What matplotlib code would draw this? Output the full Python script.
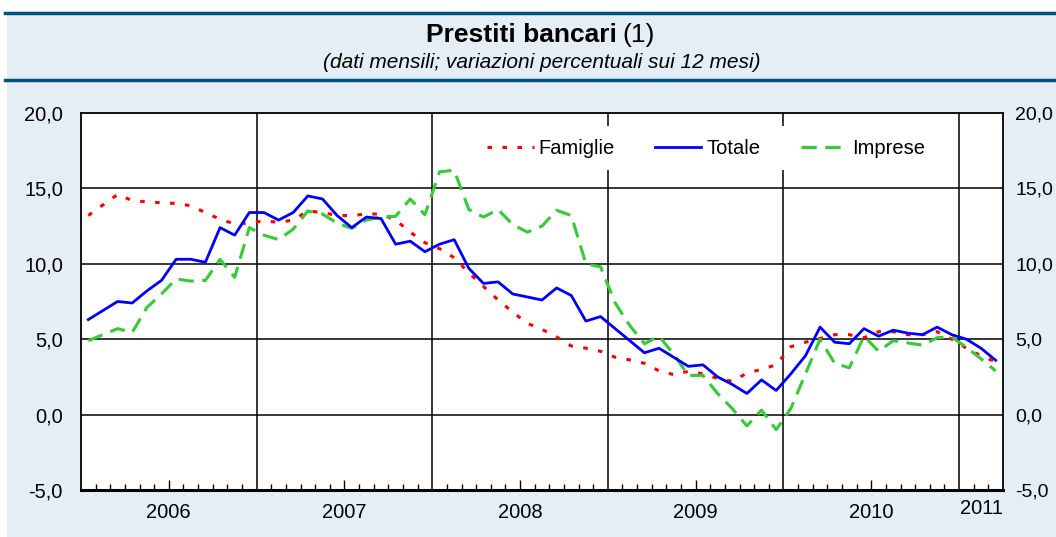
import matplotlib.pyplot as plt
import matplotlib.transforms as mtransforms
import numpy as np
from matplotlib.lines import Line2D

plt.rcParams['font.family'] = ['Liberation Sans', 'DejaVu Sans']

# dati mensili, gen 2006 - mar 2011
totale = [6.3, 6.9, 7.5, 7.4, 8.2, 8.9, 10.3, 10.3, 10.1, 12.4, 11.9, 13.4,
          13.4, 12.9, 13.4, 14.5, 14.3, 13.2, 12.4, 13.1, 13.0, 11.3, 11.5, 10.8,
          11.3, 11.6, 9.7, 8.7, 8.8, 8.0, 7.8, 7.6, 8.4, 7.9, 6.2, 6.5,
          5.7, 4.9, 4.1, 4.4, 3.8, 3.2, 3.3, 2.5, 2.0, 1.4, 2.3, 1.6,
          2.7, 3.9, 5.8, 4.8, 4.7, 5.7, 5.2, 5.6, 5.4, 5.3, 5.8, 5.3,
          5.0, 4.4, 3.6]
famiglie = [13.2, 13.9, 14.6, 14.2, 14.1, 14.05, 14.0, 13.85, 13.4, 12.95, 12.65, 12.7,
            12.85, 12.75, 12.9, 13.5, 13.4, 13.2, 13.2, 13.3, 13.3, 12.9, 12.1, 11.4,
            11.0, 10.4, 9.4, 8.5, 7.6, 6.8, 6.05, 5.65, 5.15, 4.55, 4.4, 4.2,
            3.8, 3.63, 3.4, 2.9, 2.65, 2.87, 2.7, 2.4, 2.2, 2.75, 3.0, 3.3,
            4.5, 4.8, 5.05, 5.3, 5.3, 5.1, 5.5, 5.5, 5.3, 5.3, 5.5, 5.0,
            4.4, 3.9, 3.5]
imprese = [4.9, 5.3, 5.7, 5.45, 7.1, 8.0, 9.0, 8.85, 8.9, 10.3, 9.1, 12.4,
           11.9, 11.6, 12.3, 13.5, 13.3, 12.7, 12.35, 12.9, 13.1, 13.15, 14.3, 13.25,
           16.1, 16.2, 13.6, 13.1, 13.6, 12.6, 12.1, 12.5, 13.55, 13.2, 10.0, 9.8,
           7.4, 5.9, 4.7, 5.2, 4.0, 2.6, 2.6, 1.4, 0.4, -0.75, 0.3, -1.0,
           0.4, 2.7, 5.0, 3.4, 3.1, 5.2, 4.2, 4.9, 4.75, 4.6, 5.1, 5.15,
           4.45, 3.7, 2.9]
anni = ['2006', '2007', '2008', '2009', '2010']
ultimo_anno = '2011'

blu_scuro = '#00527F'
sfondo = '#E5EEF4'

fig = plt.figure(figsize=(10.56, 5.37), dpi=100)
W, H = 1056, 537

# pannello di sfondo e linee del titolo
fig.patches.append(plt.Rectangle((7 / W, 0), 1, 1 - 13 / H, transform=fig.transFigure,
                                 facecolor=sfondo, edgecolor='none', zorder=-5))
fig.add_artist(Line2D([5 / W, 1], [1 - 13 / H] * 2, color=blu_scuro, lw=2.5))
fig.add_artist(Line2D([5 / W, 1], [1 - 80 / H] * 2, color=blu_scuro, lw=2.5))

fig.text(617 / W, 1 - 35 / H, 'Prestiti bancari', fontsize=19, fontweight='bold',
         ha='right', va='center')
fig.text(622 / W, 1 - 35 / H, '(1)', fontsize=19, ha='left', va='center')
fig.text(0.513, 1 - 62 / H, '(dati mensili; variazioni percentuali sui 12 mesi)',
         fontsize=15, style='italic', ha='center', va='center')

ax = fig.add_axes([81 / W, 1 - 490 / H, 922 / W, 377 / H])
ax.set_facecolor('white')

x = np.arange(len(totale)) + 0.5
ax.plot(x, famiglie, color='#FF0000', lw=2.2, linestyle=(0, (1.5, 3.4)), label='Famiglie', zorder=3)
ax.plot(x, totale, color='#0000FF', lw=2.0, label='Totale', zorder=4)
ax.plot(x, imprese, color='#33CC33', lw=2.2, linestyle=(0, (5, 2.8)), label='Imprese', zorder=3)

ax.set_xlim(0, 63)
ax.set_ylim(-5, 20)
yt = [-5, 0, 5, 10, 15, 20]
ax.set_yticks(yt)
ax.set_yticklabels([f'{v:.1f}'.replace('.', ',') for v in yt])
for v in yt[1:-1]:
    ax.axhline(v, color='black', lw=1.1, zorder=1)
for m in range(12, 61, 12):
    ax.axvline(m, color='black', lw=1.1, zorder=1)

ax.set_xticks([6, 18, 30, 42, 54])
ax.set_xticklabels(anni)
ax.set_xticks([m for m in range(1, 63) if m % 12 != 0 and m % 12 != 6], minor=True)
ax.tick_params(axis='x', which='major', direction='in', length=7, width=1, pad=9,
               labelsize=14.5)
ax.tick_params(axis='x', which='minor', direction='in', length=4, width=1)
ax.tick_params(axis='y', length=0, pad=13, labelsize=14.5)
trans = mtransforms.blended_transform_factory(ax.transData, ax.transAxes)
ax.text(61.5, -0.048, ultimo_anno, transform=trans, fontsize=14.5, ha='center', va='center')

for s in ax.spines.values():
    s.set_linewidth(1.3)
ax.spines['bottom'].set_linewidth(2.2)

ax2 = ax.twinx()
ax2.set_ylim(-5, 20)
ax2.set_yticks(yt)
ax2.set_yticklabels([f'{v:.1f}'.replace('.', ',') for v in yt])
ax2.tick_params(axis='y', length=0, pad=9, labelsize=14)
for s in ax2.spines.values():
    s.set_visible(False)

leg = ax.legend(loc='center', bbox_to_anchor=(0.678, 0.907), ncol=3, frameon=True,
                fontsize=14.5, handlelength=2.3, columnspacing=2.0, handletextpad=0.25,
                borderpad=0.6, fancybox=False)
leg.get_frame().set_facecolor('white')
leg.get_frame().set_edgecolor('none')
leg.get_frame().set_alpha(1)
leg.set_zorder(5)

fig.savefig('out.png', dpi=100, facecolor='white')
